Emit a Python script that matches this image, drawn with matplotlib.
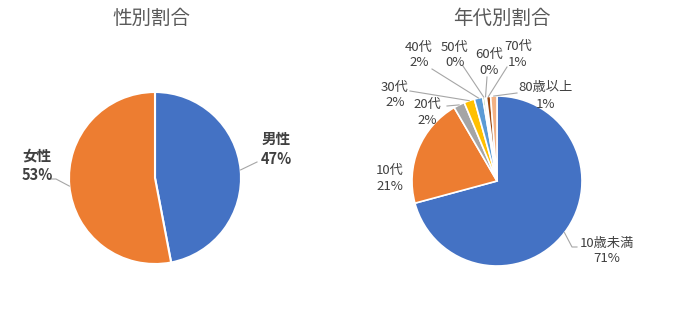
import numpy as np
import matplotlib
matplotlib.use("Agg")
import matplotlib.pyplot as plt

plt.rcParams['font.family'] = ['Noto Sans CJK JP', 'DejaVu Sans']

# 性別
gender_labels = ['男性', '女性']
gender_values = [47, 53]
gender_colors = ['#4472C4', '#ED7D31']

# 年代別
age_labels = ['10歳未満', '10代', '20代', '30代', '40代', '50代', '60代', '70代', '80歳以上']
age_values = [70.8, 20.8, 2.1, 2.0, 1.6, 0.4, 0.3, 0.8, 1.2]
age_colors = ['#4472C4', '#ED7D31', '#A5A5A5', '#FFC000', '#5B9BD5',
              '#70AD47', '#264478', '#9E480E', '#F4B183']

W, H = 677, 329
fig = plt.figure(figsize=(W / 100, H / 100), dpi=100)
ax = fig.add_axes([0, 0, 1, 1])


def P(px, py):
    # pixel coords (top-left origin) -> data coords
    return px, H - py


def edge_point(values, i, center, r):
    total = float(sum(values))
    cum = sum(values[:i]) + values[i] / 2.0
    ang = np.deg2rad(90 - 360 * cum / total)
    return center[0] + r * np.cos(ang), center[1] + r * np.sin(ang)


line_c = '#A6A6A6'
txt_c = '#404040'

# left pie
c1 = P(155, 178)
r1 = 86
ax.pie(gender_values, colors=gender_colors, startangle=90, counterclock=False,
       center=c1, radius=r1, wedgeprops=dict(edgecolor='white', linewidth=1.5))

# right pie
c2 = P(497, 181)
r2 = 85
ax.pie(age_values, colors=age_colors, startangle=90, counterclock=False,
       center=c2, radius=r2, wedgeprops=dict(edgecolor='white', linewidth=1.2))

# titles
ax.text(*P(151, 18), '性別割合', ha='center', va='center', fontsize=14, color='#595959')
ax.text(*P(502, 18), '年代別割合', ha='center', va='center', fontsize=14, color='#595959')

# gender labels: text position, leader anchor
g_pos = [(276, 149), (37, 165)]
g_anchor = [(257, 162), (51, 179)]
for i, lab in enumerate(gender_labels):
    ax.text(*P(*g_pos[i]), f'{lab}\n{gender_values[i]}%', ha='center', va='center',
            fontsize=10.5, fontweight='bold', color=txt_c, linespacing=1.25)
    ex, ey = edge_point(gender_values, i, c1, r1)
    if i == 1:
        pts = [P(*g_anchor[i]), P(56, 179), (ex, ey)]
    else:
        pts = [P(*g_anchor[i]), (ex, ey)]
    xs, ys = zip(*pts)
    ax.plot(xs, ys, color=line_c, lw=0.8)

# age labels: text center, leader anchors (None = no leader line)
a_pos = [(607, 251), (390, 178), (427, 112), (395, 95), (419, 55),
         (455, 55), (489, 62), (518, 54), (546, 96)]
a_anchor = [[(577, 247), (572, 247)], None, [(447, 106)], [(410, 91)],
            [(432, 69)], [(463, 66)], [(487, 77)], [(507, 67)], [(517, 93)]]
for i, lab in enumerate(age_labels):
    ax.text(*P(*a_pos[i]), f'{lab}\n{round(age_values[i])}%', ha='center', va='center',
            fontsize=9.5, color=txt_c, linespacing=1.3)
    if a_anchor[i] is None:
        continue
    ex, ey = edge_point(age_values, i, c2, r2)
    pts = [P(*p) for p in a_anchor[i]] + [(ex, ey)]
    xs, ys = zip(*pts)
    ax.plot(xs, ys, color=line_c, lw=0.8)

ax.set_xlim(0, W)
ax.set_ylim(0, H)
ax.set_aspect('auto')
ax.axis('off')

fig.savefig('out.png', dpi=100)
